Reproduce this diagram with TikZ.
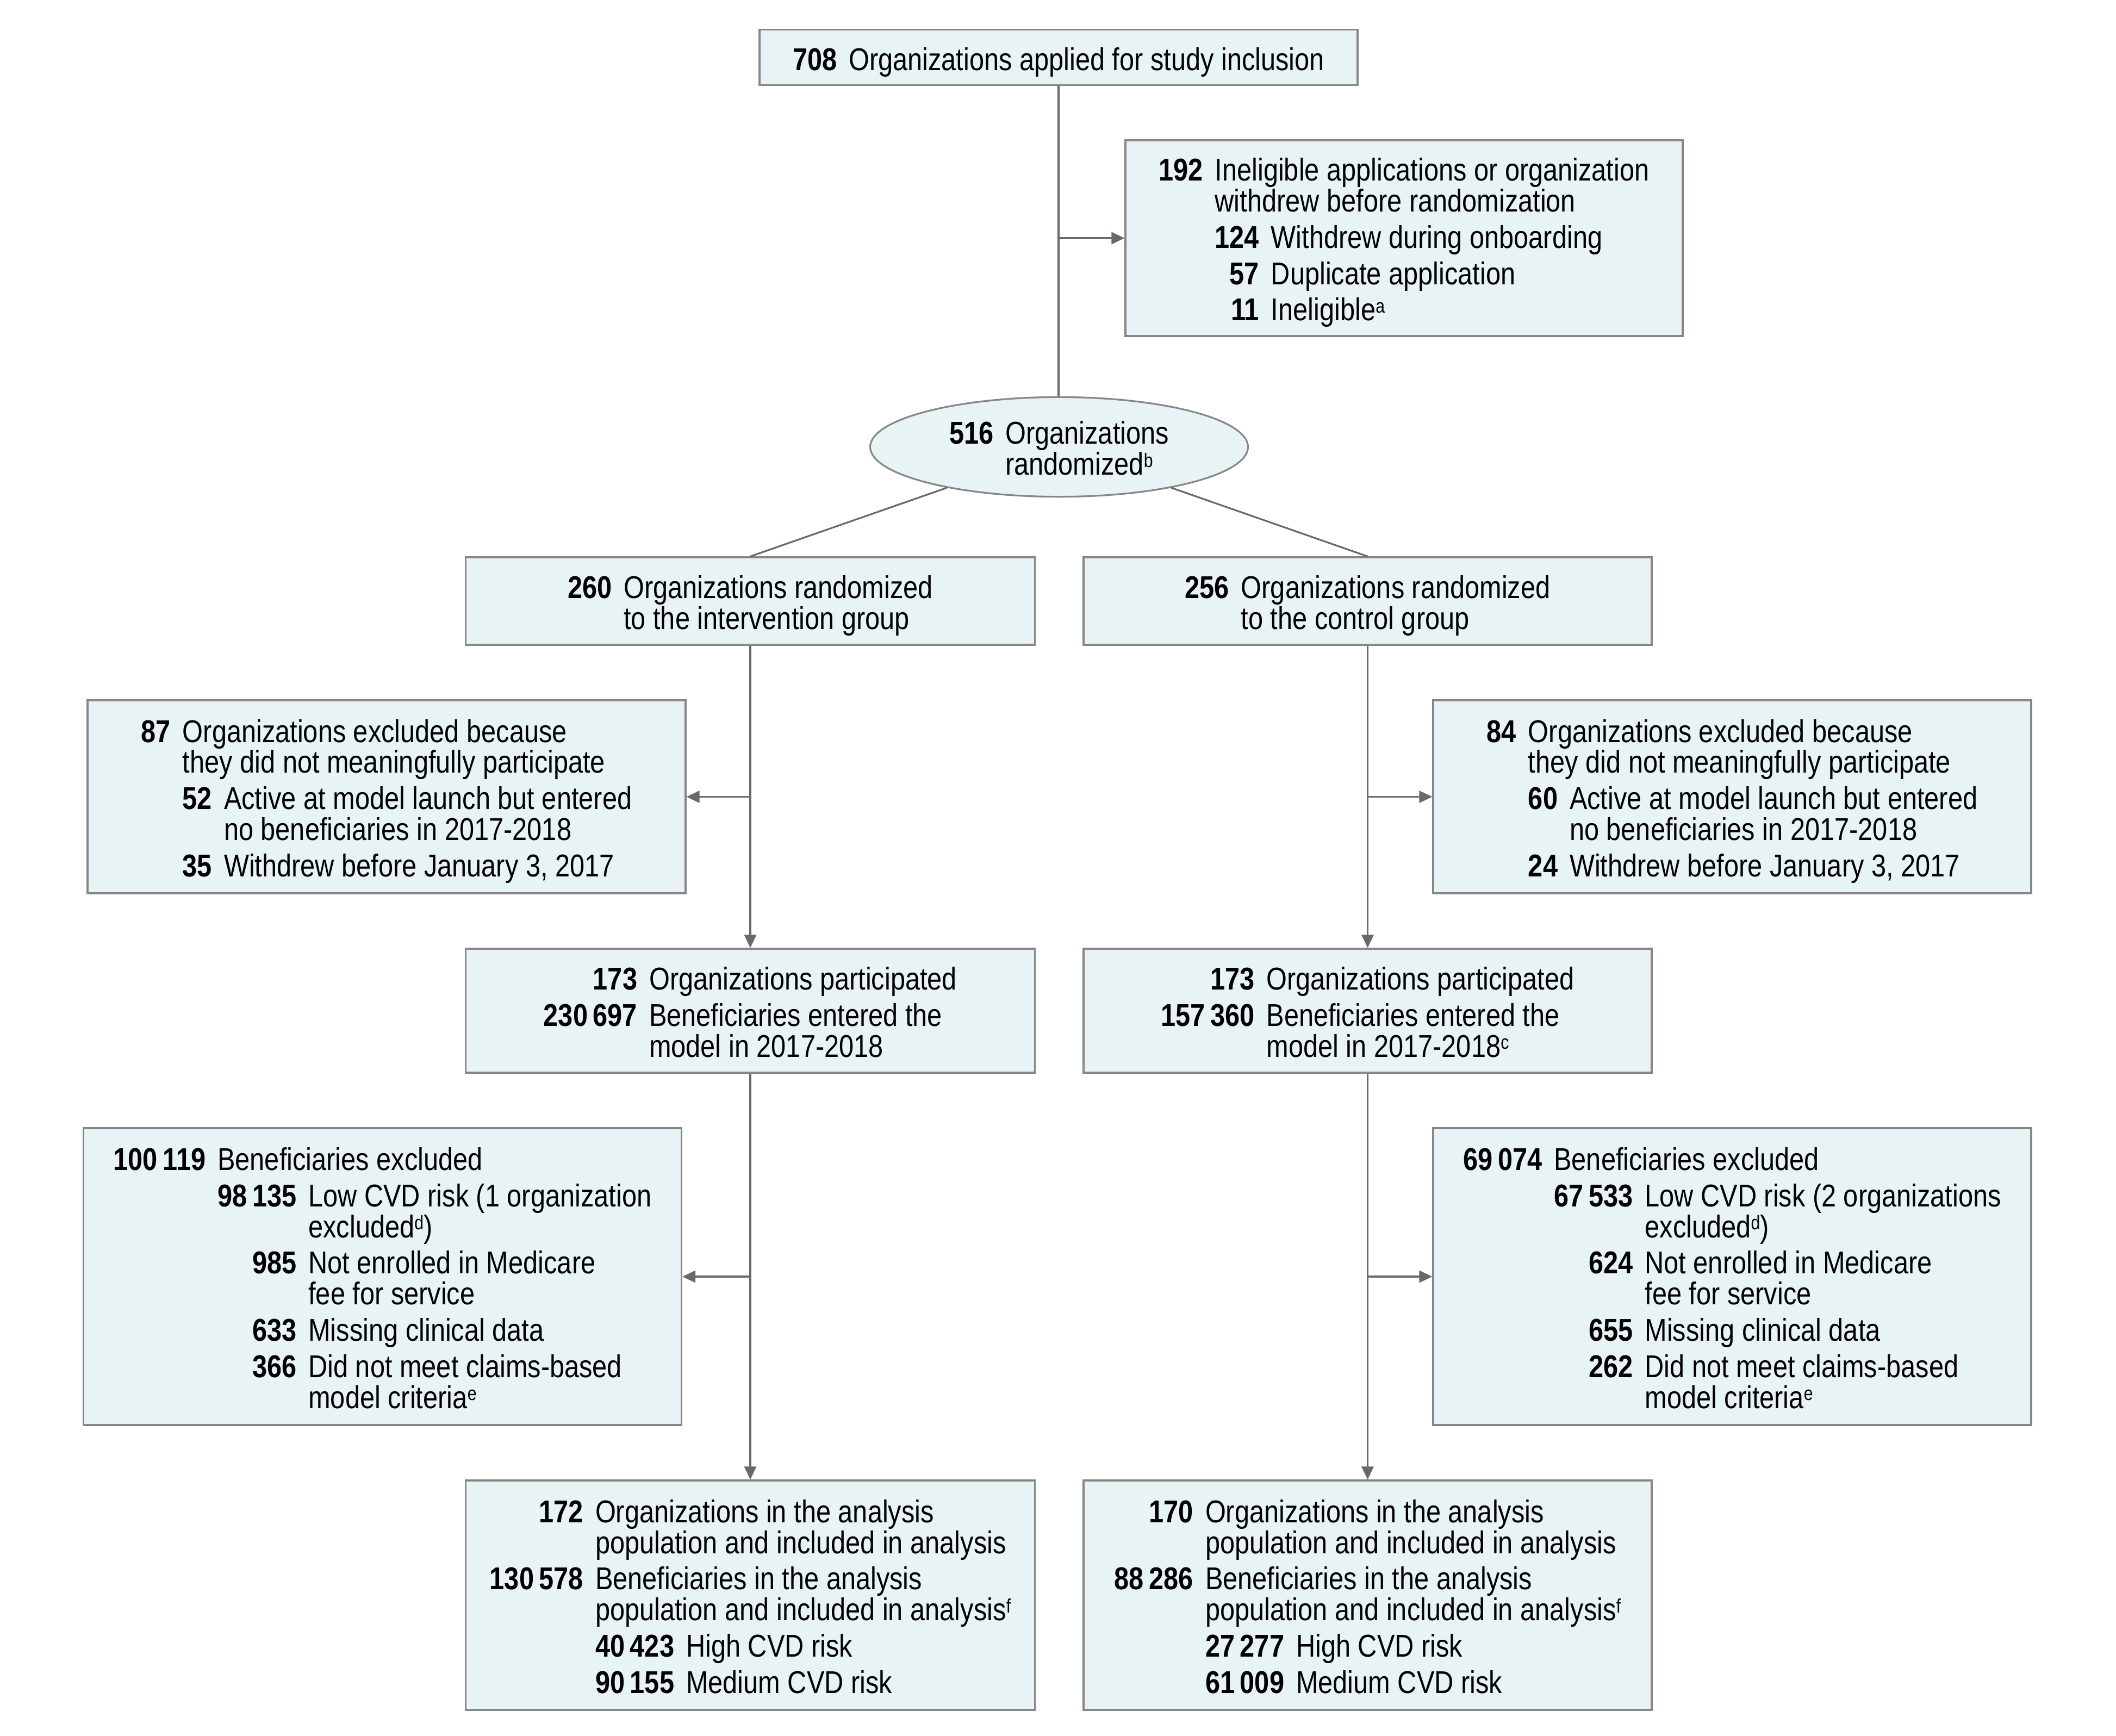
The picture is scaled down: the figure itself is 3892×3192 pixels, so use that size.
\documentclass[tikz,border=0pt]{standalone}
\usepackage{fontspec}
\setmainfont{Liberation Sans}[FakeStretch=0.84]
\usetikzlibrary{arrows.meta,shapes.geometric}
\definecolor{boxfill}{RGB}{232,243,245}
\definecolor{boxline}{RGB}{135,135,135}
\definecolor{connline}{RGB}{105,105,105}
\newcommand{\itemgap}{2.5pt}
\newcommand{\numsep}{5.5pt}
\newcommand{\fnm}[1]{\smash{\raisebox{3.6pt}{\fontsize{9}{9}\selectfont #1}}}
\newcommand{\ts}{\rule{0pt}{14.9pt}}
\newcommand{\boxfont}{\fontsize{14.5}{14.2}\selectfont
  \setbox\strutbox\hbox{\vrule height 10.9pt depth 3.3pt width 0pt}}
\newenvironment{ftab}{\begin{tabular}{@{}r@{\hspace{\numsep}}l@{}}}{\end{tabular}}
\newenvironment{stab}{\begin{tabular}[t]{@{}r@{\hspace{\numsep}}l@{}}}{\end{tabular}}
\begin{document}
\begin{tikzpicture}[x=0.25pt,y=-0.25pt,
  box/.style 2 args={draw=boxline, fill=boxfill, line width=0.8pt, inner sep=0pt,
    minimum width={#1*0.25pt}, minimum height={#2*0.25pt}, font=\boxfont},
  oval/.style 2 args={ellipse, draw=boxline, fill=boxfill, line width=0.8pt, inner sep=0pt,
    minimum width={#1*0.25pt}, minimum height={#2*0.25pt}, font=\boxfont},
  conn/.style={draw=connline, line width=0.8pt},
  arr/.style={conn, -{Triangle[length=6pt,width=5.5pt]}}]
\useasboundingbox (0,0) rectangle (3892,3192);

\node[box={1100}{102}] (b1) at (1947,105.5)
  {\ts\textbf{708}\hspace{\numsep}Organizations applied for study inclusion};

\node[box={1025}{360}] (b2) at (2582.5,438) {\begin{ftab}
\ts\textbf{192} & Ineligible applications or organization\\
 & withdrew before randomization\\[\itemgap]
 & \begin{stab}
 \textbf{124} & Withdrew during onboarding\\[\itemgap]
 \textbf{57} & Duplicate application\\[\itemgap]
 \textbf{11} & Ineligible\fnm{a}
 \end{stab}
\end{ftab}};

\node[oval={695}{181}] (e) at (1948,822) {\begin{ftab}
\ts\textbf{516} & Organizations\\
 & randomized\fnm{b}
\end{ftab}};

\node[box={1047}{161}] (b3) at (1380,1105.5) {\begin{ftab}
\ts\textbf{260} & Organizations randomized\\
 & to the intervention group
\end{ftab}};

\node[box={1045}{161}] (b4) at (2515.5,1105.5) {\begin{ftab}
\ts\textbf{256} & Organizations randomized\\
 & to the control group
\end{ftab}};

\node[box={1100}{355}] (b5) at (711,1465.5) {\begin{ftab}
\ts\textbf{87} & Organizations excluded because\\
 & they did not meaningfully participate\\[\itemgap]
 & \begin{stab}
 \textbf{52} & Active at model launch but entered\\
  & no beneficiaries in 2017-2018\\[\itemgap]
 \textbf{35} & Withdrew before January 3, 2017
 \end{stab}
\end{ftab}};

\node[box={1100}{355}] (b6) at (3186,1465.5) {\begin{ftab}
\ts\textbf{84} & Organizations excluded because\\
 & they did not meaningfully participate\\[\itemgap]
 & \begin{stab}
 \textbf{60} & Active at model launch but entered\\
  & no beneficiaries in 2017-2018\\[\itemgap]
 \textbf{24} & Withdrew before January 3, 2017
 \end{stab}
\end{ftab}};

\node[box={1047}{228}] (b7) at (1380,1859) {\begin{ftab}
\ts\textbf{173} & Organizations participated\\[\itemgap]
\textbf{230\,697} & Beneficiaries entered the\\
 & model in 2017-2018
\end{ftab}};

\node[box={1045}{228}] (b8) at (2515.5,1859) {\begin{ftab}
\ts\textbf{173} & Organizations participated\\[\itemgap]
\textbf{157\,360} & Beneficiaries entered the\\
 & model in 2017-2018\fnm{c}
\end{ftab}};

\node[box={1100}{546}] (b9) at (703.5,2348) {\begin{ftab}
\ts\textbf{100\,119} & Beneficiaries excluded\\[\itemgap]
 & \begin{stab}
 \textbf{98\,135} & Low CVD risk (1 organization\\
  & excluded\fnm{d})\\[\itemgap]
 \textbf{985} & Not enrolled in Medicare\\
  & fee for service\\[\itemgap]
 \textbf{633} & Missing clinical data\\[\itemgap]
 \textbf{366} & Did not meet claims-based\\
  & model criteria\fnm{e}
 \end{stab}
\end{ftab}};

\node[box={1100}{546}] (b10) at (3186,2348) {\begin{ftab}
\ts\textbf{69\,074} & Beneficiaries excluded\\[\itemgap]
 & \begin{stab}
 \textbf{67\,533} & Low CVD risk (2 organizations\\
  & excluded\fnm{d})\\[\itemgap]
 \textbf{624} & Not enrolled in Medicare\\
  & fee for service\\[\itemgap]
 \textbf{655} & Missing clinical data\\[\itemgap]
 \textbf{262} & Did not meet claims-based\\
  & model criteria\fnm{e}
 \end{stab}
\end{ftab}};

\node[box={1047}{422}] (b11) at (1380,2934) {\begin{ftab}
\ts\textbf{172} & Organizations in the analysis\\
 & population and included in analysis\\[\itemgap]
\textbf{130\,578} & Beneficiaries in the analysis\\
 & population and included in analysis\fnm{f}\\[\itemgap]
 & \begin{stab}
 \textbf{40\,423} & High CVD risk\\[\itemgap]
 \textbf{90\,155} & Medium CVD risk
 \end{stab}
\end{ftab}};

\node[box={1045}{422}] (b12) at (2515.5,2934) {\begin{ftab}
\ts\textbf{170} & Organizations in the analysis\\
 & population and included in analysis\\[\itemgap]
\textbf{88\,286} & Beneficiaries in the analysis\\
 & population and included in analysis\fnm{f}\\[\itemgap]
 & \begin{stab}
 \textbf{27\,277} & High CVD risk\\[\itemgap]
 \textbf{61\,009} & Medium CVD risk
 \end{stab}
\end{ftab}};

% connectors
\draw[conn] (b1.south) -- (b1.south |- e.north);
\draw[arr] (b2.west -| b1.south) -- (b2.west);
\draw[conn] (e.200) -- (b3.north);
\draw[conn] (e.340) -- (b4.north);
\draw[arr] (b3.south) -- (b7.north);
\draw[arr] (b5.east -| b3.south) -- (b5.east);
\draw[arr] (b4.south) -- (b8.north);
\draw[arr] (b6.west -| b4.south) -- (b6.west);
\draw[arr] (b7.south) -- (b11.north);
\draw[arr] (b9.east -| b7.south) -- (b9.east);
\draw[arr] (b8.south) -- (b12.north);
\draw[arr] (b10.west -| b8.south) -- (b10.west);
\end{tikzpicture}
\end{document}
